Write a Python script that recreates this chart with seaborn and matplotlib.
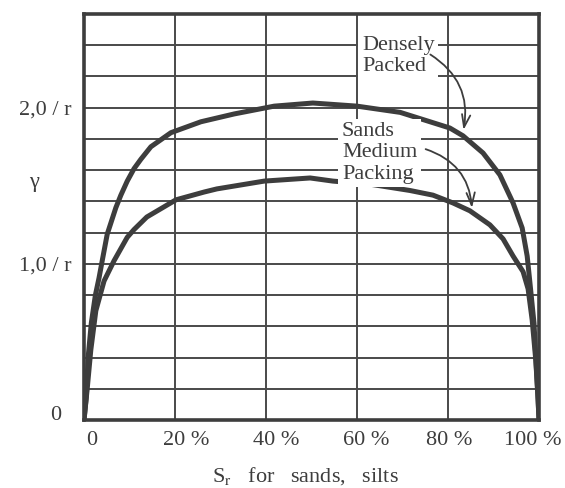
import matplotlib
matplotlib.use("Agg")
import matplotlib.pyplot as plt
import matplotlib.transforms as mtransforms
import seaborn as sns
import pandas as pd

# values (Sr in %, gamma in units of 1/r)
dense_sr = [0, 0.5, 0.9, 1.6, 2.5, 3.3, 4.0, 5.1, 7.0, 8.1, 9.5, 11.0, 12.5, 14.7, 19.1,
            25.7, 33.0, 41.8, 50.3, 60, 69.5, 80.4, 83.3, 87.7, 91.4, 94.3, 96.3, 97.4,
            98.0, 98.9, 99.3, 99.8, 100]
dense_gamma = [0, 0.15, 0.40, 0.62, 0.80, 0.91, 1.02, 1.19, 1.36, 1.44, 1.53, 1.61, 1.67, 1.75, 1.84,
               1.91, 1.96, 2.01, 2.03, 2.01, 1.97, 1.87, 1.82, 1.71, 1.57, 1.39, 1.23, 1.05,
               0.88, 0.62, 0.40, 0.13, 0]
medium_sr = [0, 0.7, 1.5, 2.6, 4.4, 6.6, 9.5, 11.0, 13.8, 20.2, 26.4, 29.2, 39.6, 49.7, 54.7,
             62.9, 71.6, 76.7, 81.1, 84.8, 89.2, 92.1, 94.3, 96.5, 97.6, 98.5, 99.3, 99.8, 100]
medium_gamma = [0, 0.20, 0.45, 0.70, 0.89, 1.02, 1.17, 1.22, 1.30, 1.41, 1.46, 1.48, 1.53, 1.55, 1.53,
                1.51, 1.47, 1.44, 1.39, 1.34, 1.25, 1.16, 1.05, 0.95, 0.84, 0.64, 0.38, 0.13, 0]

x_ticks = [0, 20, 40, 60, 80, 100]
x_labels = ["0", "20 %", "40 %", "60 %", "80 %", "100 %"]
y_ticks = [0, 1.0, 2.0]
y_labels = ["0", "1,0 / r", "2,0 / r"]

df = pd.concat([
    pd.DataFrame({"sr": dense_sr, "gamma": dense_gamma, "packing": "dense"}),
    pd.DataFrame({"sr": medium_sr, "gamma": medium_gamma, "packing": "medium"}),
])

sns.set_style("white")
plt.rcParams["font.family"] = ["Liberation Serif", "DejaVu Serif"]
plt.rcParams["mathtext.fontset"] = "stix"

ink = "#3d3d3d"
fig = plt.figure(figsize=(5.65, 4.88), dpi=100)
ax = fig.add_axes([0.1487, 0.1393, 0.8053, 0.832])

sns.lineplot(data=df, x="sr", y="gamma", hue="packing", units="packing", estimator=None,
             sort=False, palette={"dense": ink, "medium": ink}, linewidth=3.6,
             legend=False, ax=ax, zorder=3)

ax.set_xlim(0, 100)
ax.set_ylim(0, 2.6)
ax.set_xticks(x_ticks)
ax.set_xticklabels(x_labels, fontsize=16, color=ink)
ax.set_yticks(y_ticks)
ax.set_yticklabels(y_labels, fontsize=16, color=ink)
ax.set_yticks([i * 0.2 for i in range(14)], minor=True)
ax.tick_params(length=0, which="both")
ax.tick_params(axis="x", pad=8)
ax.tick_params(axis="y", pad=9)
ax.grid(True, which="both", color="#4a4a4a", linewidth=1.4)
ax.grid(False, which="minor", axis="x")
for s in ax.spines.values():
    s.set_color(ink)
    s.set_linewidth(2.6)

# hand-lettered labels in the scan sit a little off their grid lines
x_shift = [8, 11, 10, 9, 1, -6]
for lab, dx in zip(ax.get_xticklabels(), x_shift):
    lab.set_transform(lab.get_transform() +
                      mtransforms.ScaledTranslation(dx / 100, 0, fig.dpi_scale_trans))
y_shift = [(-10, 7), (0, 0), (0, 0)]
for lab, (dx, dy) in zip(ax.get_yticklabels(), y_shift):
    lab.set_transform(lab.get_transform() +
                      mtransforms.ScaledTranslation(dx / 100, dy / 100, fig.dpi_scale_trans))

ax.set_xlabel(r"S$_{\mathrm{r}}$   for   sands,   silts", fontsize=16, color=ink)
ax.xaxis.set_label_coords(0.487, -0.11)
ax.set_ylabel("")
ax.text(-0.11, 1.52, "γ", transform=ax.get_yaxis_transform(), fontsize=16,
        color=ink, ha="center", va="center")

box = dict(facecolor="white", edgecolor="none", pad=2.5)
ax.text(61.1, 2.33, "Densely\nPacked", fontsize=16, color=ink, ha="left", va="center",
        bbox=box, zorder=4, linespacing=1.15)
ax.text(56.7, 1.71, "Sands\nMedium\nPacking", fontsize=16, color=ink, ha="left", va="center",
        bbox=box, zorder=4, linespacing=1.15)

ax.annotate("", xy=(83.3, 1.84), xytext=(75.6, 2.35),
            arrowprops=dict(arrowstyle="->,head_length=0.9,head_width=0.3", color=ink,
                            lw=1.3, connectionstyle="arc3,rad=-0.35"), zorder=5)
ax.annotate("", xy=(85.3, 1.34), xytext=(74.5, 1.74),
            arrowprops=dict(arrowstyle="->,head_length=0.9,head_width=0.3", color=ink,
                            lw=1.3, connectionstyle="arc3,rad=-0.35"), zorder=5)

fig.savefig("out.png", dpi=100)
